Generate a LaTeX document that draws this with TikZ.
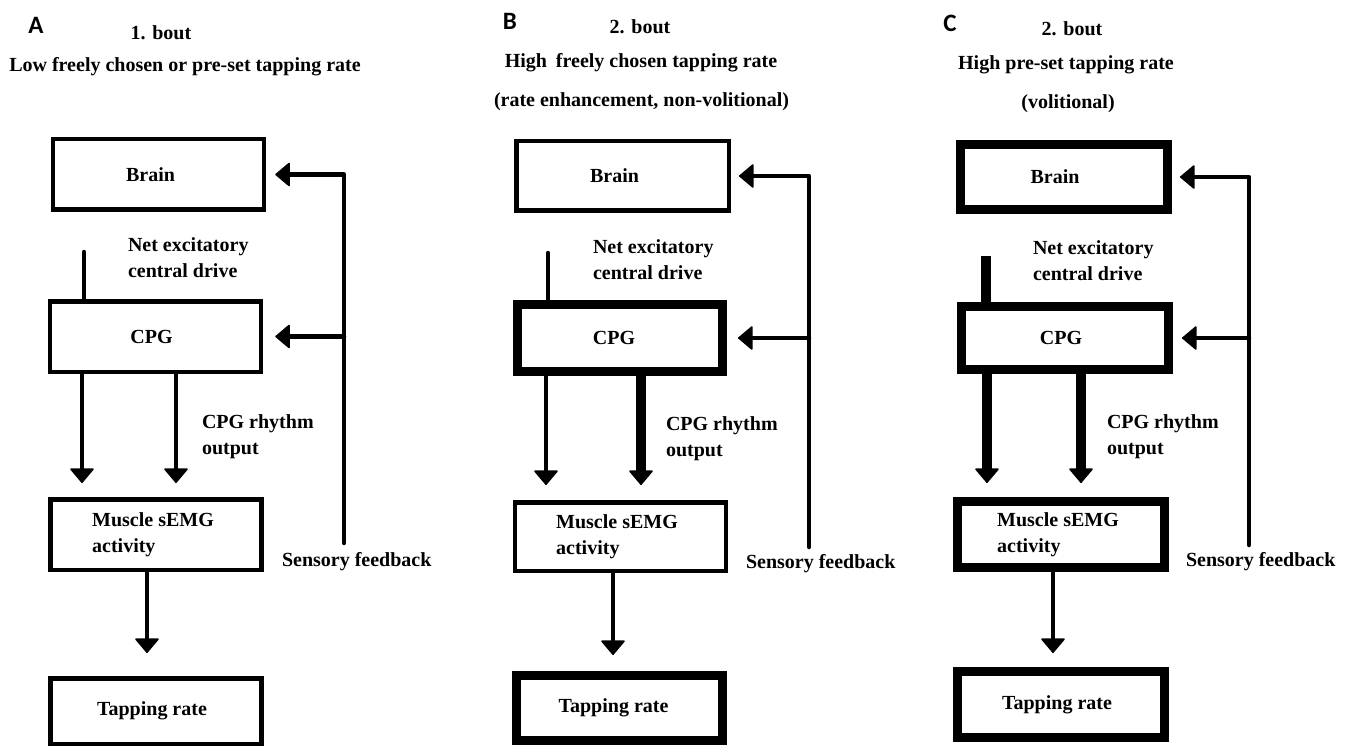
\documentclass[tikz,border=0pt]{standalone}
\usepackage{fontspec}
\setmainfont{Liberation Serif}
\newfontfamily\letterfont{Carlito}
\usetikzlibrary{arrows.meta}
\begin{document}
\begin{tikzpicture}[x=1pt,y=-1pt,
  every node/.style={font=\bfseries\fontsize{20}{26}\selectfont, inner sep=0pt, outer sep=0pt},
  lettr/.style={font=\letterfont\bfseries\fontsize{25}{30}\selectfont},
  thinbox/.style={draw, line width=4.5pt, outer sep=2.25pt, minimum width=211pt, minimum height=70.5pt},
  thickbox/.style={draw, line width=9pt, outer sep=4.5pt, minimum width=207pt, minimum height=66pt},
  thinline/.style={line width=4.5pt},
  thickline/.style={line width=10pt},
  arr/.style={-{Triangle[width=25pt,length=15pt,round,line width=1.5pt]}},
  fb/.style={thinline, arr, line join=round, line cap=round},
  lbl/.style={anchor=west, align=left}]
\useasboundingbox[fill=white] (0,0) rectangle (1354,746);

% ---------------- Panel A ----------------
\node[lettr] (labA) at (36,25) {A};
\node (boutA) at (161,33) {1. bout};
\node (headA) at (185,67) {Low freely chosen or pre-set tapping rate};

\node[thinbox] (brainA) at (158.5,174.5) {Brain\hspace*{16pt}};
\node[thinbox] (cpgA) at (155.5,336.5) {CPG\hspace*{8pt}};
\node[thinbox, align=left] (muscleA) at (156,534.5) {Muscle sEMG\hspace*{6pt}\\activity};
\node[thinbox, minimum height=65.5pt] (tapA) at (156,711) {Tapping rate\hspace*{8pt}};

\coordinate (dA) at (84,252);
\draw[thinline, line cap=round] (dA) -- (dA |- cpgA.north);
\draw[thinline, arr, shorten >=14pt] (cpgA.south -| 82,0) -- (muscleA.north -| 82,0);
\draw[thinline, arr, shorten >=14pt] (cpgA.south -| 176,0) -- (muscleA.north -| 176,0);
\draw[thinline, arr, shorten >=23pt] (muscleA.south -| 147,0) -- (tapA.north -| 147,0);
\coordinate (fbA) at (344,543);
\draw[fb, shorten >=9pt] (fbA) |- (brainA.east);
\draw[fb, shorten >=12pt] (fbA |- cpgA.east) -- (cpgA.east);

\node[lbl] (netA) at (128,258) {Net excitatory\\central drive};
\node[lbl] (rhyA) at (202,436.5) {CPG rhythm\\output};
\node[lbl] (sensA) at (282,562) {Sensory feedback};

% ---------------- Panel B ----------------
\node[lettr] (labB) at (510,21) {B};
\node (boutB) at (640,27) {2. bout};
\node (headB) at (641,63) {High\hspace{4pt} freely chosen tapping rate};
\node (subB) at (641.5,102) {(rate enhancement, non-volitional)};

\node[thinbox, minimum height=69.5pt, minimum width=212.5pt] (brainB) at (622.5,176) {Brain\hspace*{16pt}};
\node[thickbox, minimum height=67pt, minimum width=205pt] (cpgB) at (620,338) {CPG\hspace*{12pt}};
\node[thinbox, minimum height=68.5pt] (muscleB) at (620.5,536.5) [align=left] {Muscle sEMG\hspace*{7pt}\\activity};
\node[thickbox, minimum height=65pt, minimum width=206pt] (tapB) at (619.5,708) {Tapping rate\hspace*{12pt}};

\coordinate (dB) at (548,253);
\draw[thinline, line cap=round] (dB) -- (dB |- cpgB.north);
\draw[thinline, arr, shorten >=15pt] (cpgB.south -| 546,0) -- (muscleB.north -| 546,0);
\draw[thickline, arr, shorten >=15pt] (cpgB.south -| 641,0) -- (muscleB.north -| 641,0);
\draw[thinline, arr, shorten >=16pt] (muscleB.south -| 613,0) -- (tapB.north -| 613,0);
\coordinate (fbB) at (809,547);
\draw[fb, shorten >=8pt] (fbB) |- (brainB.east);
\draw[fb, shorten >=11pt] (fbB |- cpgB.east) -- (cpgB.east);

\node[lbl] (netB) at (593,260) {Net excitatory\\central drive};
\node[lbl] (rhyB) at (666,439) {CPG rhythm\\output};
\node[lbl] (sensB) at (746,564) {Sensory feedback};

% ---------------- Panel C ----------------
\node[lettr] (labC) at (950,23) {C};
\node (boutC) at (1072,29) {2. bout};
\node (headC) at (1066,65) {High pre-set tapping rate};
\node (subC) at (1068,104) {(volitional)};

\node[thickbox, minimum height=65pt] (brainC) at (1064,177) {Brain\hspace*{18pt}};
\node[thickbox, minimum height=63pt] (cpgC) at (1065,338) {CPG\hspace*{8pt}};
\node[thickbox] (muscleC) at (1061,534.5) [align=left] {Muscle sEMG\hspace*{6pt}\\activity};
\node[thickbox] (tapC) at (1061,704.5) {Tapping rate\hspace*{8pt}};

\coordinate (dC) at (986,256);
\draw[thickline] (dC) -- (dC |- cpgC.north);
\draw[thickline, arr, shorten >=14pt] (cpgC.south -| 987,0) -- (muscleC.north -| 987,0);
\draw[thickline, arr, shorten >=14pt] (cpgC.south -| 1081,0) -- (muscleC.north -| 1081,0);
\draw[thinline, arr, shorten >=14pt] (muscleC.south -| 1053,0) -- (tapC.north -| 1053,0);
\coordinate (fbC) at (1249,545);
\draw[fb, shorten >=8pt] (fbC) |- (brainC.east);
\draw[fb, shorten >=9pt] (fbC |- cpgC.east) -- (cpgC.east);

\node[lbl] (netC) at (1033,260.5) {Net excitatory\\central drive};
\node[lbl] (rhyC) at (1107,436.5) {CPG rhythm\\output};
\node[lbl] (sensC) at (1186,562) {Sensory feedback};
\end{tikzpicture}
\end{document}
